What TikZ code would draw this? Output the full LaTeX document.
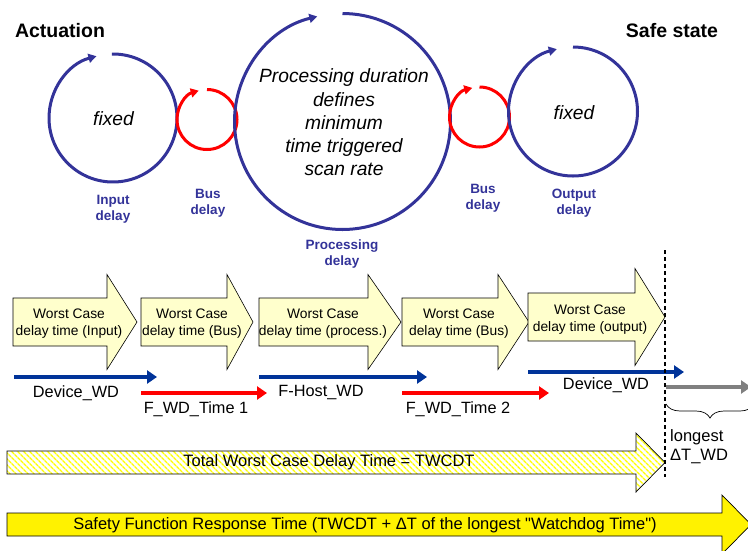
\documentclass[tikz,border=0pt]{standalone}
\usepackage{fontspec}
\setmainfont{Liberation Sans}
\usetikzlibrary{arrows.meta,patterns.meta,decorations.pathreplacing}
\definecolor{cblue}{RGB}{51,51,153}
\definecolor{wblue}{RGB}{0,51,153}
\definecolor{lyel}{RGB}{255,255,204}
\definecolor{wgray}{RGB}{128,128,128}
\newcommand{\blockarr}[7][]{%
  \path[#1] (#2,{#5+#6}) -- (#3,{#5+#6}) -- (#3,{#5+#7}) -- (#4,#5) -- (#3,{#5-#7}) -- (#3,{#5-#6}) -- (#2,{#5-#6}) -- cycle;}
\begin{document}
\begin{tikzpicture}[x=1pt,y=1pt,
  cyc/.style={line width=3pt,-{Triangle[length=8pt,width=9pt]}},
  bluecyc/.style={cyc,color=cblue},
  redcyc/.style={cyc,color=red},
  lbl/.style={text=cblue,font=\bfseries\fontsize{13.5}{16}\selectfont,align=center,inner sep=0pt},
  big/.style={font=\itshape\fontsize{19.2}{23.25}\selectfont,align=center,inner sep=0pt},
  title/.style={font=\bfseries\fontsize{19.5}{22}\selectfont,inner sep=0pt},
  blk/.style={draw=black,line width=0.6pt,fill=lyel},
  blktxt/.style={font=\fontsize{13.8}{17}\selectfont,align=center,inner sep=0pt},
  wd/.style={line width=4pt,-{Triangle[length=10pt,width=13pt]}},
  wdtxt/.style={font=\fontsize{16.3}{18.5}\selectfont,inner sep=0pt},
  bartxt/.style={font=\fontsize{16.5}{18}\selectfont,inner sep=0pt}]
\useasboundingbox (0,0) rectangle (748,-550);
\clip (0,0) rectangle (748,-550);

% titles
\node[title] (act) at (60,-31) {Actuation};
\node[title] (safe) at (672,-31) {Safe state};

% circles
\coordinate (c1) at (113,-118);
\coordinate (c2) at (207,-119.5);
\coordinate (c3) at (342.5,-121.5);
\coordinate (c4) at (479.5,-117);
\coordinate (c5) at (573,-111.5);
\draw[bluecyc] ([shift={(91:64)}]c1) arc[start angle=91,end angle=-255,radius=64];
\draw[redcyc] ([shift={(90:30)}]c2) arc[start angle=90,end angle=-254,radius=30];
\draw[bluecyc] ([shift={(90:108)}]c3) arc[start angle=90,end angle=-256.5,radius=108];
\draw[redcyc] ([shift={(90:30)}]c4) arc[start angle=90,end angle=-256,radius=30];
\draw[bluecyc] ([shift={(90:64.5)}]c5) arc[start angle=90,end angle=-255.4,radius=64.5];

\node[big] (fix1) at (113.5,-119) {fixed};
\node[big] (proc) at (344,-122.5) {Processing duration\\defines\\minimum\\time triggered\\scan rate};
\node[big] (fix2) at (574,-113) {fixed};

\node[lbl] (l1) at (113,-209.5) {Input\\delay};
\node[lbl] (l2) at (208,-203.5) {Bus\\delay};
\node[lbl] (l3) at (342,-254) {Processing\\delay};
\node[lbl] (l4) at (483,-198.5) {Bus\\delay};
\node[lbl] (l5) at (574,-203.5) {Output\\delay};

% block arrows
\blockarr[blk]{13}{107}{137}{-322}{24}{47.5}
\blockarr[blk]{141}{227}{253}{-322}{24}{47.5}
\blockarr[blk]{259}{368}{401}{-322}{24}{47.5}
\blockarr[blk]{402}{498}{529}{-322}{24}{47.5}
\blockarr[blk]{528}{635}{665}{-317}{24}{48.5}
\node[blktxt] (b1) at (69,-323.5) {Worst Case\\delay time (Input)};
\node[blktxt] (b2) at (192,-323.5) {Worst Case\\delay time (Bus)};
\node[blktxt] (b3) at (323,-323.5) {Worst Case\\delay time (process.)};
\node[blktxt] (b4) at (459,-323.5) {Worst Case\\delay time (Bus)};
\node[blktxt] (b5) at (590,-319.5) {Worst Case\\delay time (output)};

% watchdog arrows
\coordinate (w1s) at (14,-377);  \coordinate (w1e) at (157,-377);
\coordinate (w2s) at (141,-393); \coordinate (w2e) at (267,-393);
\coordinate (w3s) at (259,-377); \coordinate (w3e) at (427,-377);
\coordinate (w4s) at (402,-393); \coordinate (w4e) at (549,-393);
\coordinate (w5s) at (528,-372); \coordinate (w5e) at (684,-372);
\coordinate (w6s) at (666,-387); \coordinate (w6e) at (751,-387);
\draw[wd,wblue] (w1s) -- (w1e);
\draw[wd,red] (w2s) -- (w2e);
\draw[wd,wblue] (w3s) -- (w3e);
\draw[wd,red] (w4s) -- (w4e);
\draw[wd,wblue] (w5s) -- (w5e);
\draw[wd,wgray] (w6s) -- (w6e);
\node[wdtxt] (t1) at (76,-393) {Device\_WD};
\node[wdtxt] (t2) at (196,-409) {F\_WD\_Time 1};
\node[wdtxt] (t3) at (321,-393) {F-Host\_WD};
\node[wdtxt] (t4) at (458,-409) {F\_WD\_Time 2};
\node[wdtxt] (t5) at (606,-385) {Device\_WD};

% TWCDT hatched arrow
\blockarr[pattern={Lines[angle=-45,distance=4pt,line width=1.6pt]},pattern color=yellow]{7}{636}{665}{-462.5}{11.5}{29.5}
\blockarr[draw=black,line width=0.7pt]{7}{636}{665}{-462.5}{11.5}{29.5}
\node[bartxt] (twcdt) at (329,-462.5) {Total Worst Case Delay Time = TWCDT};

% SFRT arrow
\blockarr[draw=black,line width=0.7pt,fill=yellow]{7}{722}{751}{-524.5}{11.5}{29.5}
\node[bartxt] (sfrt) at (365,-525) {Safety Function Response Time (TWCDT + ΔT of the longest \textquotedbl Watchdog Time\textquotedbl)};

% dashed line and brace
\coordinate (dtop) at (665,-250);
\coordinate (dbot) at (665,-477);
\draw[black,line width=1.3pt,dash pattern=on 4pt off 3pt] (dtop) -- (dbot);
\coordinate (brl) at (666,-404);
\coordinate (brr) at (754,-404);
\draw[black,line width=0.7pt,decorate,decoration={brace,mirror,amplitude=14pt}] (brl) -- (brr);
\node[wdtxt,anchor=west,align=left,font=\fontsize{16.5}{19}\selectfont] (lg) at (670,-446.5) {longest\\ΔT\_WD};
\end{tikzpicture}
\end{document}
